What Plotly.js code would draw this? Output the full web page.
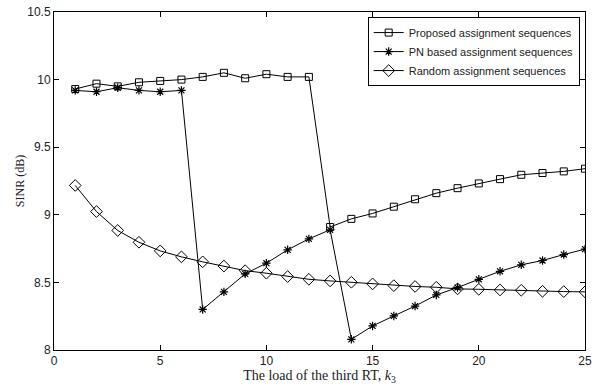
<!DOCTYPE html>
<html>
<head>
<meta charset="utf-8">
<script src="https://cdn.plot.ly/plotly-3.0.1.min.js"></script>
<style>body{margin:0;padding:0;background:#fff}#chart{width:601px;height:385px}</style>
</head>
<body>
<div id="chart"></div>
<script>
const xLoad = [1,2,3,4,5,6,7,8,9,10,11,12,13,14,15,16,17,18,19,20,21,22,23,24,25];
const proposed = [9.93,9.97,9.95,9.98,9.99,10.0,10.02,10.05,10.01,10.04,10.02,10.02,8.91,8.97,9.01,9.06,9.115,9.16,9.197,9.232,9.264,9.296,9.309,9.321,9.341];
const pnBased = [9.92,9.91,9.94,9.92,9.91,9.92,8.30,8.43,8.563,8.642,8.741,8.822,8.889,8.079,8.178,8.252,8.325,8.407,8.462,8.523,8.582,8.63,8.662,8.706,8.746];
const randomSeq = [9.217,9.024,8.884,8.797,8.733,8.689,8.652,8.621,8.587,8.568,8.543,8.523,8.511,8.501,8.489,8.476,8.47,8.464,8.452,8.449,8.444,8.442,8.434,8.432,8.43];
const seriesNames = ['Proposed assignment sequences','PN based assignment sequences','Random assignment sequences'];
const yTicks = [8,8.5,9,9.5,10,10.5];
const xTicks = [0,5,10,15,20,25];

const line = {color:'black', width:1};
const traces = [
  {x:xLoad, y:proposed, name:seriesNames[0], mode:'lines+markers', line:line,
   marker:{symbol:'square-open', size:7, color:'black', line:{width:1}}},
  {x:xLoad, y:pnBased, name:seriesNames[1], mode:'lines+markers', line:line,
   marker:{symbol:'asterisk-open', size:7, color:'black', line:{width:1.2}}},
  {x:xLoad, y:randomSeq, name:seriesNames[2], mode:'lines+markers', line:line,
   marker:{symbol:'diamond-open', size:9, color:'black', line:{width:1}}}
];
const axBase = {showgrid:false, zeroline:false, showline:true, linecolor:'black', linewidth:1,
  mirror:'ticks', ticks:'inside', ticklen:5, tickcolor:'black',
  tickfont:{family:'Liberation Sans, Arial, sans-serif', size:12, color:'#222'}};
const layout = {
  width:601, height:385,
  margin:{l:54, r:16, t:12, b:35},
  paper_bgcolor:'white', plot_bgcolor:'white',
  showlegend:true,
  xaxis:Object.assign({}, axBase, {range:[0,25], tickvals:xTicks, ticktext:xTicks.map(String),
    title:{text:'The load of the third RT, <i>k</i><sub>3</sub>', standoff:3,
      font:{family:'Liberation Serif, Times New Roman, serif', size:14, color:'#222'}}}),
  yaxis:Object.assign({}, axBase, {range:[8,10.5], tickvals:yTicks, ticktext:yTicks.map(String),
    title:{text:'SINR (dB)', standoff:0,
      font:{family:'Liberation Serif, Times New Roman, serif', size:12, color:'#222'}}}),
  legend:{x:0.99, y:0.985, xanchor:'right', yanchor:'top', bgcolor:'white',
    bordercolor:'black', borderwidth:1, tracegroupgap:0, itemwidth:30,
    font:{family:'Liberation Sans, Arial, sans-serif', size:11, color:'#222'}}
};
Plotly.newPlot('chart', traces, layout, {displayModeBar:false, staticPlot:true});
</script>
</body>
</html>
